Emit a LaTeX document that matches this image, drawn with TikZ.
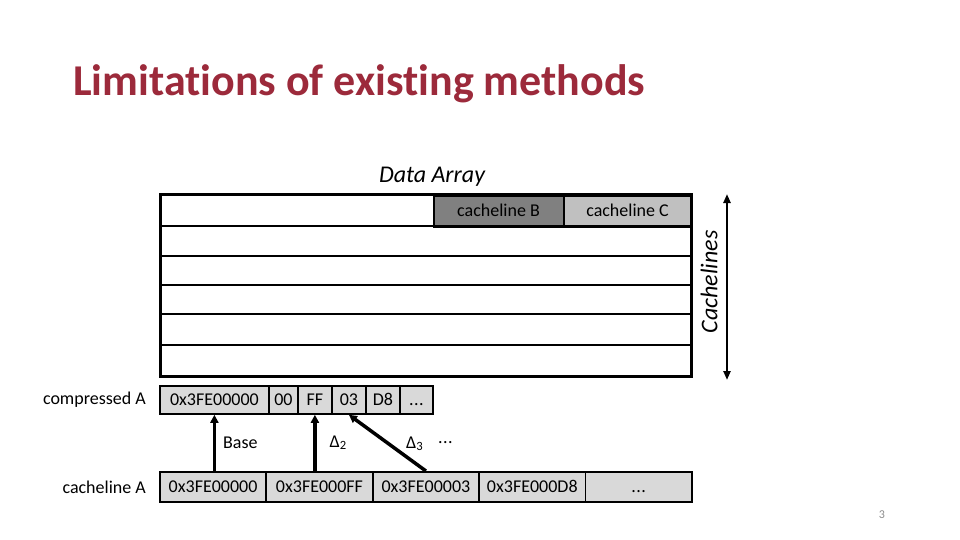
\documentclass[tikz,border=0pt]{standalone}
\usepackage{fontspec}
\setmainfont{Carlito}[Ligatures=NoCommon]
\definecolor{Titlecol}{HTML}{9C2A3B}
\definecolor{Cellcol}{HTML}{D9D9D9}
\definecolor{Bcol}{HTML}{808080}
\definecolor{Ccol}{HTML}{C0C0C0}
\definecolor{Numcol}{HTML}{8C8C8C}
\usetikzlibrary{arrows.meta, positioning}
\newcommand{\moredots}{.\kern0.5pt.\kern0.5pt.}
\tikzset{
    >={Triangle[length=8pt, width=8pt]},
    cell/.style={draw, fill=Cellcol, line width=1.8pt, inner sep=0pt,
        text height=11.6pt, text depth=0pt,
        anchor=north west, font=\fontsize{18}{20}\selectfont},
    lab/.style={inner sep=0pt, font=\fontsize{18}{20}\selectfont}
}

\begin{document}
\begin{tikzpicture}[x=1pt, y=-1pt]
    \useasboundingbox (0,0) rectangle (960,540);

    % Title
    \node[Titlecol, anchor=base west, inner sep=0pt, font=\fontsize{44}{48}\selectfont\bfseries] (title) at (73,96) {Limitations of existing methods};

    % Data array
    \node[lab, font=\fontsize{24}{26}\selectfont\itshape] (datalab) at (432,177) {Data Array};
    \node[cell, fill=Bcol, line width=2pt, minimum width=130pt, minimum height=31pt] (lineB) at (432.5,194.5) {cacheline B};
    \node[cell, fill=Ccol, line width=2pt, minimum width=128pt, minimum height=31pt] (lineC) at (562.5,194.5) {cacheline C};
    \foreach \y in {225.5, 255.5, 284.5, 313.5, 344.5}
        \draw[line width=2pt] (160,\y) -- (691,\y);
    \draw[line width=3pt] (160,194) rectangle (691,376);

    % Cachelines
    \coordinate (ctop) at (727,194);
    \coordinate (cbot) at (727,380);
    \draw[{Triangle[length=9pt, width=7pt]}-{Triangle[length=9pt, width=7pt]}, line width=2.5pt] (ctop) -- (cbot);
    \node[lab, rotate=90, font=\fontsize{24}{26}\selectfont\itshape] (clab) at (709,282) {Cachelines};

    % Compressed A
    \foreach \name/\x/\w/\txt in {c1/159/109/0x3FE00000, c2/268/29/00, c3/297/34/FF, c4/331/34/03, c5/365/34/D8, c6/399/33/\moredots}
        \node[cell, minimum width=\w pt, minimum height=28pt] (\name) at (\x,385) {\txt};
    \node[lab, left=13pt of c1] (clabel) {compressed A};

    % Cacheline A
    \foreach \i/\txt in {1/0x3FE00000, 2/0x3FE000FF, 3/0x3FE00003, 4/0x3FE000D8, 5/\moredots}
        \node[cell, minimum width=106.4pt, minimum height=30pt] (a\i) at ({159+(\i-1)*106.4},471) {\txt};
    \node[lab, left=13pt of a1] (alabel) {cacheline A};

    % Base and deltas
    \draw[->, line width=3.5pt] (a1.north -| c1.south) -- node[lab, right=7pt] (base) {Base} (c1.south);
    \draw[->, line width=3.5pt] (a2.north -| c3.south) -- node[lab, right=13pt] (d2) {Δ\textsubscript{2}} (c3.south);
    \draw[->, line width=3.5pt] (a3.north) -- node[lab, right=17pt, yshift=-1pt] (d3) {Δ\textsubscript{3}} (c4.south);
    \node[lab, base right=13pt of d3, yshift=5pt] (dots) {\moredots};

    \node[Numcol, lab, font=\fontsize{12}{14}\selectfont] (pagenum) at (882,515) {3};
\end{tikzpicture}
\end{document}
